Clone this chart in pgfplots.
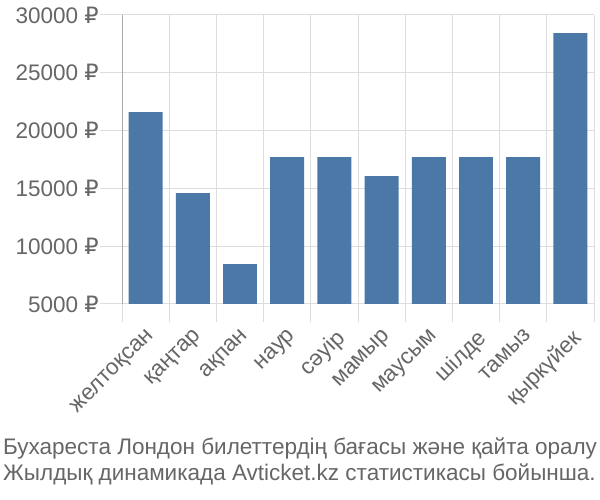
\documentclass[border=0pt]{standalone}
\usepackage{fontspec}
\setmainfont{Liberation Sans}
\newfontfamily\rubfont{DejaVu Sans}
\newcommand{\rub}{{\rubfont ₽}}
\usepackage{pgfplots}
\pgfplotsset{compat=1.18}
\definecolor{barblue}{HTML}{4C78A8}
\definecolor{txt}{HTML}{666666}
\definecolor{gridc}{HTML}{DDDDDD}
\definecolor{axc}{HTML}{AAAAAA}
\begin{document}
\begin{tikzpicture}
\path[use as bounding box] (0,0) rectangle (600bp,500bp);
\begin{axis}[
 at={(122bp,196bp)}, anchor=south west,
 scale only axis, width=472bp, height=289bp,
 xmin=-0.5, xmax=9.5, ymin=5000, ymax=30000,
 scaled y ticks=false,
 axis x line*=bottom, axis y line*=left,
 axis line style={-},
 x axis line style={draw=gridc, line width=1bp},
 y axis line style={draw=axc, line width=1bp},
 ytick={5000,10000,15000,20000,25000,30000},
 yticklabels={5000 \rub,10000 \rub,15000 \rub,20000 \rub,25000 \rub,30000 \rub},
 xtick={0,...,9},
 xticklabels={желтоқсан,қаңтар,ақпан,наур,сәуір,мамыр,маусым,шілде,тамыз,қыркүйек},
 minor xtick={-0.5,0.5,...,9.5},
 tick align=outside,
 major tick length=22bp, minor tick length=18bp,
 major x tick style={draw=none},
 tick style={draw=gridc, line width=1bp},
 ymajorgrids, xminorgrids,
 major grid style={draw=gridc, line width=1bp},
 minor grid style={draw=gridc, line width=1bp},
 tick label style={font=\fontsize{22.5bp}{25bp}\selectfont, text=txt},
 xticklabel style={rotate=45, anchor=north east, inner sep=1bp},
 yticklabel style={inner sep=1bp},
]
\addplot[ybar, fill=barblue, draw=none, bar width=0.72] coordinates {
 (0,21600) (1,14600) (2,8460) (3,17700) (4,17700) (5,16070) (6,17700) (7,17700) (8,17700) (9,28440)};
\draw[draw=axc, line width=1bp] (rel axis cs:0,1) -- ([yshift=-18bp]rel axis cs:0,0);
\end{axis}
\node[anchor=base west, inner sep=0pt, text=txt, font=\fontsize{22.5bp}{25bp}\selectfont] at (3bp,45bp) {Бухареста Лондон билеттердің бағасы және қайта оралу};
\node[anchor=base west, inner sep=0pt, text=txt, font=\fontsize{22.5bp}{25bp}\selectfont] at (3bp,20bp) {Жылдық динамикада Avticket.kz статистикасы бойынша.};
\end{tikzpicture}
\end{document}
